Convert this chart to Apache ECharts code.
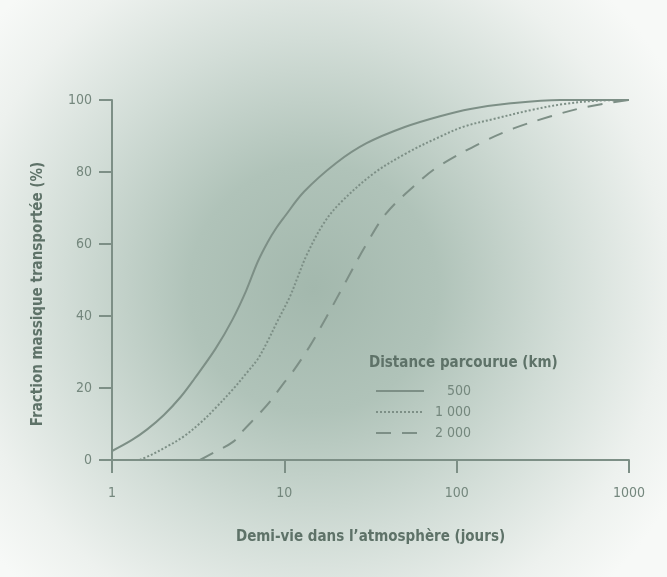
<!DOCTYPE html>
<html>
<head>
<meta charset="utf-8">
<script src="https://cdn.jsdelivr.net/npm/echarts@6/dist/echarts.min.js"></script>
<style>
html,body{margin:0;padding:0;background:#fff;}
#c{width:667px;height:577px;}
</style>
</head>
<body>
<div id="c"></div>
<script>
// Half-life (days) vs transported mass fraction (%)
var xTicks = [1, 10, 100, 1000];
var yTicks = [0, 20, 40, 60, 80, 100];
var seriesNames = ['500', '1 000', '2 000'];

var d500 = [
  [1, 2.5], [1.3, 5.5], [1.6, 8.5], [2, 12.5], [2.5, 17.5], [3, 22.5],
  [4, 31], [5, 39], [6, 47], [7, 55], [8, 60.5], [9, 64.5], [10, 67.5],
  [13, 74.5], [20, 82.5], [30, 88], [50, 92.5], [80, 95.5], [120, 97.5],
  [200, 99], [400, 100], [1000, 100]
];
var d1000 = [
  [1.45, 0], [1.7, 1.5], [2.08, 3.7], [2.6, 6.5], [3.24, 10.2], [4, 14.5],
  [5, 19.5], [6, 24], [7, 28], [8, 33], [9, 38], [10.8, 45.5], [12, 51],
  [13.5, 57], [16.8, 65.5], [21, 71.3], [33, 79.6], [51, 85.2], [80, 89.8],
  [110, 92.6], [170, 94.9], [270, 97.2], [420, 98.9], [650, 99.8], [1000, 100]
];
var d2000 = [
  [3.24, 0], [3.87, 2], [5.06, 5.1], [5.8, 8.3], [7.2, 13], [8.25, 16.2],
  [9.9, 21.3], [11, 24], [14, 31.5], [17.6, 39.8], [23, 50], [30, 60],
  [39, 68.5], [56, 75.9], [78, 81.5], [137, 88], [214, 92.1], [348, 95.4],
  [569, 98.1], [1000, 100]
];

var FONT = "'Liberation Sans Narrow', 'DejaVu Sans Condensed', 'Roboto', sans-serif";
var LINE = '#7d8f86';
var TEXT = '#74877d';
var TITLE = '#5e7268';

var chart = echarts.init(document.getElementById('c'), null, {renderer: 'canvas'});

function mk(name, data, type) {
  return {
    name: name,
    type: 'line',
    data: data,
    smooth: 0.35,
    showSymbol: false,
    symbol: 'none',
    silent: true,
    z: 3,
    color: LINE,
    itemStyle: {color: LINE},
    lineStyle: {color: LINE, width: 2,
      type: type === 'solid' ? 'solid' : (type === 'dotted' ? [2, 2] : [15, 11])}
  };
}

chart.setOption({
  animation: false,
  backgroundColor: '#ffffff',
  graphic: [
    {
      type: 'rect', z: -100, silent: true,
      shape: {x: 0, y: 0, width: 667, height: 577},
      style: {
        fill: {
          type: 'radial', x: 0.47, y: 0.5, r: 0.72,
          colorStops: [
            {offset: 0, color: '#a3b8ad'},
            {offset: 0.3, color: '#b0c3b9'},
            {offset: 0.6, color: '#d2ddd7'},
            {offset: 0.85, color: '#edf1ee'},
            {offset: 1, color: '#f7f9f7'}
          ]
        }
      }
    },
    {
      type: 'text', left: 369, top: 356, silent: true,
      style: {text: 'Distance parcourue (km)', fill: TITLE,
        font: 'bold 15px ' + FONT}
    },
    {
      type: 'text', silent: true, x: 38, y: 294, rotation: Math.PI / 2,
      style: {text: 'Fraction massique transportée (%)', fill: TITLE,
        font: 'bold 15px ' + FONT, align: 'center', verticalAlign: 'middle'}
    }
  ],
  grid: {left: 112, right: 38, top: 100, bottom: 117},
  legend: {
    orient: 'vertical', left: 370, top: 379, itemWidth: 48, itemHeight: 14,
    itemGap: 7, selectedMode: false, data: seriesNames,
    itemStyle: {opacity: 0},
    textStyle: {color: TEXT, fontFamily: FONT, fontSize: 14,
      rich: {r: {width: 42, align: 'right', fontFamily: FONT, fontSize: 14, color: TEXT}}},
    formatter: function (n) { return '{r|' + n + '}'; }
  },
  xAxis: {
    type: 'log', logBase: 10, min: xTicks[0], max: xTicks[xTicks.length - 1],
    name: 'Demi-vie dans l\u2019atmosphère (jours)', nameLocation: 'middle', nameGap: 70,
    nameTextStyle: {color: TITLE, fontFamily: FONT, fontWeight: 'bold', fontSize: 15},
    axisLine: {lineStyle: {color: LINE, width: 2}},
    axisTick: {show: true, length: 13, lineStyle: {color: LINE, width: 2}},
    minorTick: {show: false},
    splitLine: {show: false},
    axisLabel: {color: TEXT, fontFamily: FONT, fontSize: 14, margin: 26,
      formatter: function (v) { return xTicks.indexOf(Math.round(v)) >= 0 ? String(Math.round(v)) : ''; }}
  },
  yAxis: {
    type: 'value', min: yTicks[0], max: yTicks[yTicks.length - 1], interval: 20,
    axisLine: {show: true, lineStyle: {color: LINE, width: 2}},
    axisTick: {show: true, length: 13, lineStyle: {color: LINE, width: 2}},
    splitLine: {show: false},
    axisLabel: {color: TEXT, fontFamily: FONT, fontSize: 14, margin: 20}
  },
  series: [
    mk(seriesNames[0], d500, 'solid'),
    mk(seriesNames[1], d1000, 'dotted'),
    mk(seriesNames[2], d2000, 'dashed')
  ]
});
</script>
</body>
</html>
